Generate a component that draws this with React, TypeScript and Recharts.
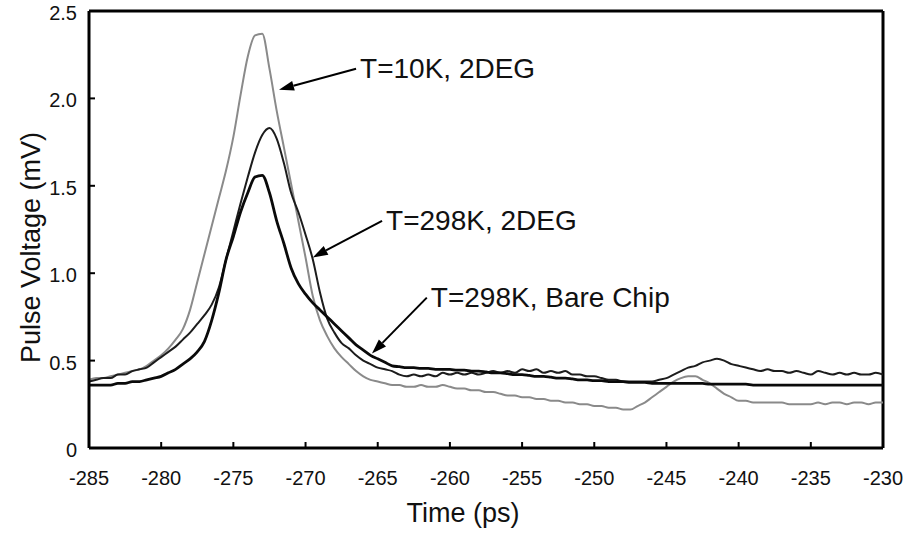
import { LineChart, Line, XAxis, YAxis, ReferenceLine } from "recharts"

// time axis, ps (0.5 ps step)
const times = [
  -285, -284.5, -284, -283.5, -283, -282.5, -282, -281.5, -281, -280.5,
  -280, -279.5, -279, -278.5, -278, -277.5, -277, -276.5, -276, -275.5,
  -275, -274.5, -274, -273.5, -273, -272.5, -272, -271.5, -271, -270.5,
  -270, -269.5, -269, -268.5, -268, -267.5, -267, -266.5, -266, -265.5,
  -265, -264.5, -264, -263.5, -263, -262.5, -262, -261.5, -261, -260.5,
  -260, -259.5, -259, -258.5, -258, -257.5, -257, -256.5, -256, -255.5,
  -255, -254.5, -254, -253.5, -253, -252.5, -252, -251.5, -251, -250.5,
  -250, -249.5, -249, -248.5, -248, -247.5, -247, -246.5, -246, -245.5,
  -245, -244.5, -244, -243.5, -243, -242.5, -242, -241.5, -241, -240.5,
  -240, -239.5, -239, -238.5, -238, -237.5, -237, -236.5, -236, -235.5,
  -235, -234.5, -234, -233.5, -233, -232.5, -232, -231.5, -231, -230.5,
  -230,
]

// T=10K, 2DEG (grey trace), mV
const cold2deg = [
  0.39, 0.40, 0.40, 0.41, 0.42, 0.43, 0.44, 0.45, 0.47, 0.50,
  0.53, 0.57, 0.62, 0.68, 0.79, 0.95, 1.11, 1.27, 1.43, 1.59,
  1.78, 2.02, 2.24, 2.36, 2.37, 2.17, 1.93, 1.72, 1.51, 1.30,
  1.09, 0.87, 0.73, 0.64, 0.57, 0.52, 0.48, 0.44, 0.41, 0.39,
  0.38, 0.37, 0.36, 0.36, 0.35, 0.35, 0.36, 0.35, 0.35, 0.36,
  0.35, 0.34, 0.34, 0.33, 0.33, 0.32, 0.32, 0.31, 0.30, 0.30,
  0.29, 0.29, 0.28, 0.28, 0.27, 0.27, 0.26, 0.26, 0.25, 0.25,
  0.24, 0.24, 0.23, 0.23, 0.22, 0.22, 0.24, 0.26, 0.29, 0.32,
  0.35, 0.38, 0.40, 0.41, 0.41, 0.39, 0.37, 0.34, 0.31, 0.29,
  0.27, 0.27, 0.26, 0.26, 0.26, 0.26, 0.26, 0.25, 0.25, 0.25,
  0.25, 0.26, 0.25, 0.26, 0.26, 0.25, 0.26, 0.26, 0.25, 0.26,
  0.26,
]

// T=298K, 2DEG
const room2deg = [
  0.38, 0.39, 0.40, 0.40, 0.42, 0.42, 0.44, 0.45, 0.46, 0.49,
  0.52, 0.55, 0.58, 0.62, 0.66, 0.71, 0.76, 0.82, 0.92, 1.08,
  1.24, 1.40, 1.55, 1.69, 1.79, 1.83, 1.77, 1.63, 1.46, 1.35,
  1.22, 1.08, 0.89, 0.74, 0.66, 0.60, 0.57, 0.53, 0.50, 0.48,
  0.46, 0.45, 0.44, 0.42, 0.41, 0.42, 0.41, 0.42, 0.41, 0.43,
  0.42, 0.43, 0.42, 0.43, 0.42, 0.43, 0.44, 0.43, 0.44, 0.43,
  0.45, 0.44, 0.45, 0.43, 0.44, 0.43, 0.44, 0.42, 0.42, 0.41,
  0.41, 0.40, 0.39, 0.39, 0.38, 0.38, 0.38, 0.38, 0.38, 0.39,
  0.40, 0.42, 0.44, 0.46, 0.47, 0.49, 0.50, 0.51, 0.50, 0.48,
  0.47, 0.46, 0.45, 0.44, 0.45, 0.44, 0.44, 0.43, 0.44, 0.43,
  0.42, 0.44, 0.43, 0.42, 0.43, 0.42, 0.43, 0.42, 0.42, 0.43,
  0.42,
]

// T=298K, Bare Chip
const bareChip = [
  0.36, 0.36, 0.36, 0.36, 0.37, 0.37, 0.38, 0.38, 0.39, 0.40,
  0.41, 0.43, 0.45, 0.48, 0.51, 0.55, 0.61, 0.73, 0.89, 1.08,
  1.21, 1.35, 1.46, 1.55, 1.56, 1.46, 1.30, 1.17, 1.03, 0.94,
  0.88, 0.83, 0.79, 0.75, 0.71, 0.67, 0.63, 0.59, 0.56, 0.53,
  0.51, 0.49, 0.47, 0.465, 0.46, 0.46, 0.455, 0.455, 0.45, 0.45,
  0.45, 0.445, 0.445, 0.44, 0.44, 0.435, 0.43, 0.43, 0.425, 0.42,
  0.42, 0.415, 0.41, 0.41, 0.405, 0.40, 0.40, 0.395, 0.39, 0.39,
  0.385, 0.385, 0.38, 0.38, 0.38, 0.375, 0.375, 0.375, 0.37, 0.37,
  0.37, 0.37, 0.37, 0.37, 0.37, 0.37, 0.365, 0.365, 0.365, 0.365,
  0.365, 0.365, 0.36, 0.36, 0.36, 0.36, 0.36, 0.36, 0.36, 0.36,
  0.36, 0.36, 0.36, 0.36, 0.36, 0.36, 0.36, 0.36, 0.36, 0.36,
  0.36,
]

const xTicks = [-285, -280, -275, -270, -265, -260, -255, -250, -245, -240, -235, -230]
const yTicks = [0, 0.5, 1.0, 1.5, 2.0, 2.5]

// annotation arrows: label, tail (t, mV), tip (t, mV)
const notes = [
  { text: "T=10K, 2DEG", from: [-266.5, 2.17], to: [-271.84, 2.05] },
  { text: "T=298K, 2DEG", from: [-264.7, 1.30], to: [-269.5, 1.09] },
  { text: "T=298K, Bare Chip", from: [-261.6, 0.86], to: [-265.4, 0.54] },
]

const data = times.map((t, i) => ({
  t,
  cold: cold2deg[i],
  room: room2deg[i],
  bare: bareChip[i],
}))

const FONT = '"Liberation Sans", Arial, Helvetica, sans-serif'

const XTick = (props: any) => {
  const { x, y, payload } = props
  const v = payload.value
  const edge = v === -285 || v === -230
  return (
    <g>
      {!edge && <line x1={x} y1={y} x2={x} y2={y - 6} stroke="#000" strokeWidth={2} />}
      <text x={x} y={y + 30} textAnchor="middle" dominantBaseline="central" fontSize={20} fontFamily={FONT} fill="#111">
        {v}
      </text>
    </g>
  )
}

const YTick = (props: any) => {
  const { x, y, payload } = props
  const v = payload.value
  const edge = v === 0 || v === 2.5
  return (
    <g>
      {!edge && <line x1={x} y1={y} x2={x + 6} y2={y} stroke="#000" strokeWidth={2} />}
      <text x={x - 12} y={y + 2} textAnchor="end" dominantBaseline="central" fontSize={20} fontFamily={FONT} fill="#111">
        {v === 0 ? "0" : v.toFixed(1)}
      </text>
    </g>
  )
}

const arrow = (label: string) => (props: any) => {
  const { x1, y1, x2, y2 } = props
  const a = Math.atan2(y2 - y1, x2 - x1)
  const c = Math.cos(a)
  const s = Math.sin(a)
  const bx = x2 - 15 * c
  const by = y2 - 15 * s
  const pts = `${x2},${y2} ${bx - 5 * s},${by + 5 * c} ${bx + 5 * s},${by - 5 * c}`
  return (
    <g>
      <line x1={x1} y1={y1} x2={bx} y2={by} stroke="#000" strokeWidth={2} />
      <polygon points={pts} fill="#000" />
      <text x={x1 + 4} y={y1} dominantBaseline="central" fontSize={28} fontFamily={FONT} fill="#111">
        {label}
      </text>
    </g>
  )
}

const xLabel = (props: any) => {
  const vb = props.viewBox
  return (
    <text x={vb.x + vb.width / 2 - 23} y={vb.y + 65} textAnchor="middle" dominantBaseline="central" fontSize={27} fontFamily={FONT} fill="#111">
      Time (ps)
    </text>
  )
}

const yLabel = (props: any) => {
  const vb = props.viewBox
  const cx = vb.x + 31
  const cy = vb.y + vb.height / 2 + 18
  return (
    <text x={cx} y={cy} transform={`rotate(-90 ${cx} ${cy})`} textAnchor="middle" dominantBaseline="central" fontSize={27} fontFamily={FONT} fill="#111">
      Pulse Voltage (mV)
    </text>
  )
}

const App = () => {
  return (
    <div style={{ position: "absolute", left: 0, top: 0, width: 905, height: 537, background: "#fff" }}>
      <LineChart
        width={905}
        height={537}
        data={data}
        margin={{ top: 11, right: 22, left: 0, bottom: 0 }}
      >
        <XAxis
          dataKey="t"
          type="number"
          domain={[-285, -230]}
          ticks={xTicks}
          allowDataOverflow
          height={89}
          tickSize={0}
          tickMargin={0}
          tickLine={false}
          tick={<XTick />}
          axisLine={{ stroke: "#000", strokeWidth: 3 }}
          label={xLabel}
        />
        <YAxis
          type="number"
          domain={[0, 2.5]}
          ticks={yTicks}
          width={89}
          tickSize={0}
          tickMargin={0}
          tickLine={false}
          tick={<YTick />}
          axisLine={{ stroke: "#000", strokeWidth: 3 }}
          label={yLabel}
        />
        <ReferenceLine y={2.5} stroke="#000" strokeWidth={3} />
        <ReferenceLine x={-230} stroke="#000" strokeWidth={3} />
        <Line dataKey="cold" type="monotone" stroke="#8a8a8a" strokeWidth={2} dot={false} isAnimationActive={false} />
        <Line dataKey="room" type="monotone" stroke="#1c1c1c" strokeWidth={2} dot={false} isAnimationActive={false} />
        <Line dataKey="bare" type="monotone" stroke="#0a0a0a" strokeWidth={2.8} dot={false} isAnimationActive={false} />
        {notes.map((n) => (
          <ReferenceLine
            key={n.text}
            segment={[
              { x: n.from[0], y: n.from[1] },
              { x: n.to[0], y: n.to[1] },
            ]}
            shape={arrow(n.text)}
          />
        ))}
      </LineChart>
    </div>
  )
}

export default App
